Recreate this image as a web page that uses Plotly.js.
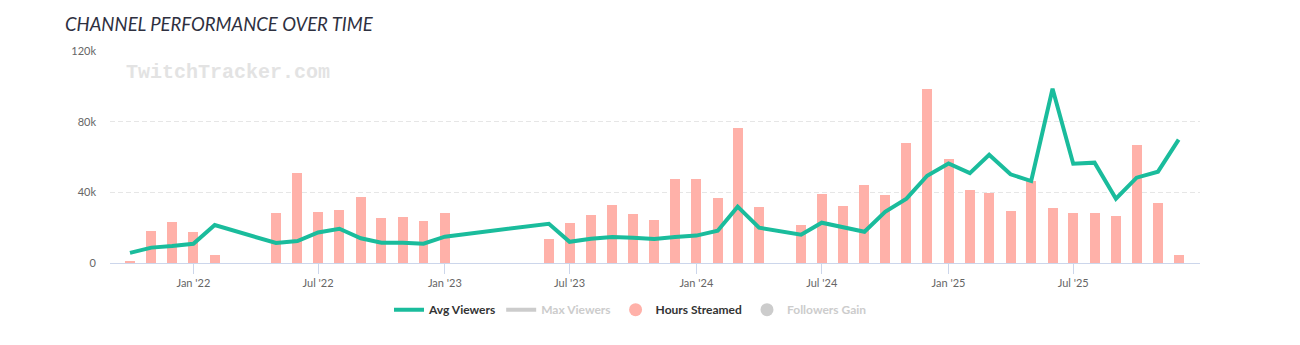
<!DOCTYPE html>
<html>
<head>
<meta charset="utf-8">
<script src="https://cdn.plot.ly/plotly-3.0.1.min.js"></script>
<style>
html,body{margin:0;padding:0;background:#fff;}
#chart{width:1300px;height:345px;}
</style>
</head>
<body>
<div id="chart"></div>
<script>
// Months with data (first day of month)
const months = [
  '2021-10-01','2021-11-01','2021-12-01','2022-01-01','2022-02-01',
  '2022-05-01','2022-06-01','2022-07-01','2022-08-01','2022-09-01',
  '2022-10-01','2022-11-01','2022-12-01','2023-01-01',
  '2023-06-01','2023-07-01','2023-08-01','2023-09-01','2023-10-01','2023-11-01','2023-12-01',
  '2024-01-01','2024-02-01','2024-03-01','2024-04-01',
  '2024-06-01','2024-07-01','2024-08-01','2024-09-01','2024-10-01','2024-11-01','2024-12-01',
  '2025-01-01','2025-02-01','2025-03-01','2025-04-01','2025-05-01','2025-06-01',
  '2025-07-01','2025-08-01','2025-09-01','2025-10-01','2025-11-01','2025-12-01'
];
const hoursStreamed = [
  1000,18300,23400,17700,4700,
  28100,51100,29000,30200,37500,
  25600,26200,23900,28500,
  13700,22800,27300,33000,27900,24500,47700,
  47700,37000,76600,31900,
  21700,39200,32400,44300,38600,68000,98600,
  59000,41500,39800,29600,46600,31300,
  28500,28500,26800,67000,34100,4700
];
const avgViewers = [
  5700,8700,9600,10900,21500,
  11300,12400,17300,19400,14000,
  11500,11500,10900,14900,
  22200,12000,13700,14700,14300,13600,14700,
  15500,18300,31900,20000,
  16000,22800,20500,17700,29000,36400,49400,
  56300,50900,61300,50200,46400,98600,
  56200,56800,36400,48300,51700,69800
];
const xTickVals = ['2022-01-01','2022-07-01','2023-01-01','2023-07-01','2024-01-01','2024-07-01','2025-01-01','2025-07-01'];
const xTickText = ["Jan '22","Jul '22","Jan '23","Jul '23","Jan '24","Jul '24","Jan '25","Jul '25"];
const yTickVals = [0,40000,80000,120000];
const yTickText = ['0','40k','80k','120k'];

const teal = '#1abc9c';
const salmon = '#ffb1a9';
const grey = '#cccccc';
const DAY = 86400000;

const traces = [
  {
    type:'bar', x: months, y: hoursStreamed, name:'Hours Streamed',
    marker:{color:salmon}, width: months.map(()=>14.5*DAY),
    showlegend:false, legendgroup:'hours', hoverinfo:'x+y'
  },
  {
    type:'scatter', mode:'lines', x: months, y: avgViewers, name:'Avg Viewers',
    line:{color:teal, width:4, shape:'linear'}, legendgroup:'avg'
  },
  {
    type:'scatter', mode:'lines', x:[null], y:[null],
    name:'<span style="color:#cccccc">Max Viewers</span>',
    line:{color:grey, width:4}
  },
  {
    type:'scatter', mode:'markers', x:[null], y:[null],
    name:'Hours Streamed', legendgroup:'hours',
    marker:{color:salmon, size:13, symbol:'circle'}
  },
  {
    type:'scatter', mode:'markers', x:[null], y:[null],
    name:'<span style="color:#cccccc">Followers Gain</span>',
    marker:{color:grey, size:13, symbol:'circle'}
  }
];

const layout = {
  width:1300, height:345,
  margin:{l:110, r:100, t:51.3, b:81.7},
  paper_bgcolor:'#ffffff', plot_bgcolor:'#ffffff',
  font:{family:'Lato, "Open Sans", sans-serif', color:'#666666', size:11},
  title:{
    text:'CHANNEL PERFORMANCE OVER TIME',
    xref:'container', yref:'container', x:65/1300, xanchor:'left',
    y:1-25/345, yanchor:'middle',
    font:{family:'Lato, sans-serif', size:18.5, color:'#2e3040', style:'italic', weight:400}
  },
  xaxis:{
    type:'date',
    range:['2021-09-02','2026-01-01'],
    tickvals:xTickVals, ticktext:xTickText,
    showgrid:false, showline:true, linecolor:'#ccd6eb', linewidth:1,
    ticks:'outside', ticklen:10, tickcolor:'#ccd6eb', tickwidth:1,
    tickfont:{family:'Lato, sans-serif', size:11, color:'#666666'},
    zeroline:false, fixedrange:true
  },
  yaxis:{
    range:[0,120000],
    tickvals:yTickVals, ticktext:yTickText,
    showgrid:true, gridcolor:'#e6e6e6', griddash:'5px,3px', gridwidth:1,
    zeroline:false, showline:false, ticks:'',
    ticklabelstandoff:13,
    tickfont:{family:'Lato, sans-serif', size:11, color:'#666666'},
    fixedrange:true
  },
  bargap:0,
  showlegend:true,
  legend:{
    orientation:'h', xref:'paper', yref:'paper',
    x:(389-110)/1090, xanchor:'left',
    y:(263.3-310)/212, yanchor:'middle',
    font:{family:'Lato, sans-serif', size:12, color:'#333333', weight:700},
    traceorder:'normal', bgcolor:'rgba(0,0,0,0)'
  },
  annotations:[
    {
      text:'TwitchTracker.com', xref:'paper', yref:'paper',
      x:(124-110)/1090, xanchor:'left', y:(263.3-73)/212, yanchor:'middle',
      showarrow:false,
      font:{family:'"Liberation Mono", "DejaVu Sans Mono", monospace', size:20, color:'#e3e3e3', weight:700}
    }
  ]
};

Plotly.newPlot('chart', traces, layout, {displayModeBar:false, staticPlot:true});
</script>
</body>
</html>
